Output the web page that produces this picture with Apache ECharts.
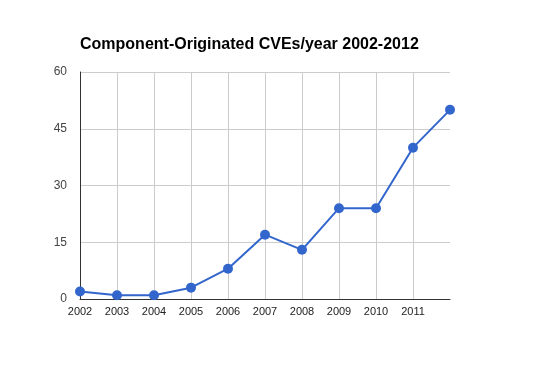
<!DOCTYPE html>
<html><head><meta charset="utf-8">
<script src="https://cdn.jsdelivr.net/npm/echarts@6/dist/echarts.min.js"></script>
<style>html,body{margin:0;padding:0;background:#fff}#c{width:534px;height:371px}</style>
</head><body><div id="c"></div>
<script>
const titleText = 'Component-Originated CVEs/year 2002-2012';
const categories = ['2002','2003','2004','2005','2006','2007','2008','2009','2010','2011','2012'];
const cves = [2, 1, 1, 3, 8, 17, 13, 24, 24, 40, 50];
const yTicks = [0, 15, 30, 45, 60];

const chart = echarts.init(document.getElementById('c'), null, {renderer: 'canvas'});
const last = categories.length - 1;
chart.setOption({
  backgroundColor: '#fff',
  animation: false,
  title: {
    text: titleText, left: 75, top: 32,
    textStyle: {fontFamily: 'Liberation Sans, Arial', fontSize: 16, fontWeight: 'bold', color: '#000'}
  },
  grid: {left: 80, right: 84, top: 72, bottom: 72},
  xAxis: {
    type: 'category', data: categories, boundaryGap: false,
    axisLine: {show: true, lineStyle: {color: '#333', width: 1}},
    axisTick: {show: false},
    axisLabel: {
      interval: (i) => i !== last,
      color: '#222', fontFamily: 'Liberation Sans, Arial', fontSize: 11, margin: 7
    },
    splitLine: {show: true, interval: (i) => i !== 0 && i !== last, lineStyle: {color: '#ccc', width: 1}}
  },
  yAxis: {
    type: 'value', min: yTicks[0], max: yTicks[yTicks.length - 1], interval: yTicks[1] - yTicks[0],
    axisLine: {show: true, lineStyle: {color: '#333', width: 1}},
    axisTick: {show: false},
    axisLabel: {color: '#444', fontFamily: 'Liberation Sans, Arial', fontSize: 12, margin: 13},
    splitLine: {show: true, lineStyle: {color: '#ccc', width: 1}}
  },
  series: [{
    type: 'line', data: cves,
    symbol: 'circle', symbolSize: 10,
    lineStyle: {color: '#3366cc', width: 2},
    itemStyle: {color: '#3366cc'}
  }]
});
</script></body></html>
